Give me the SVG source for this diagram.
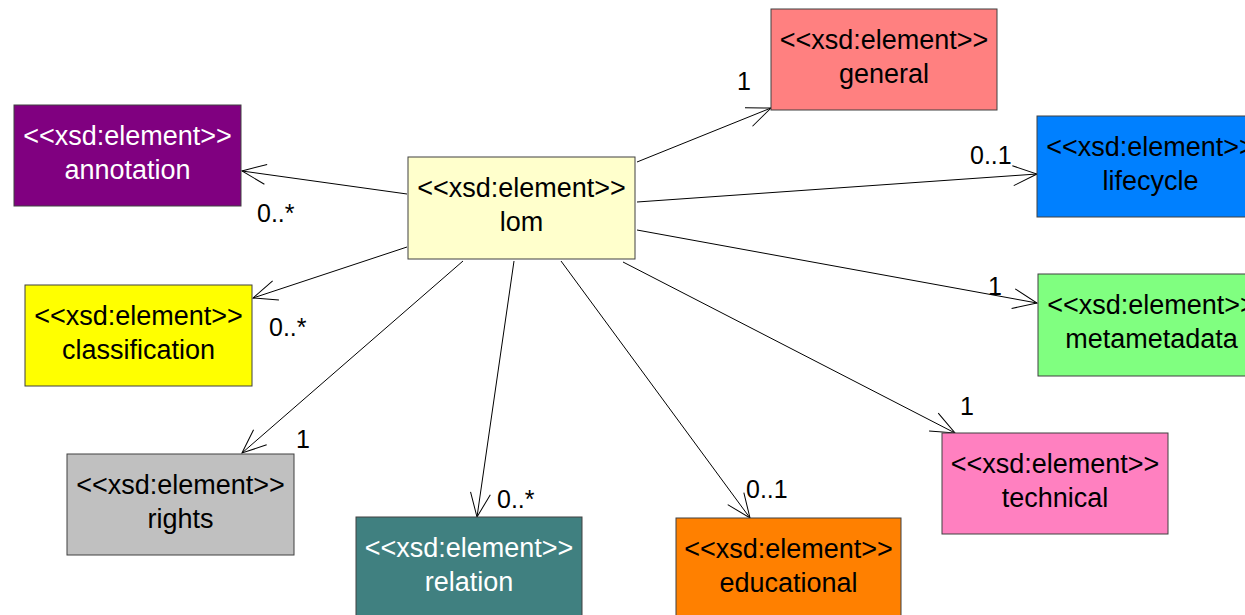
<svg xmlns="http://www.w3.org/2000/svg" width="1245" height="615" viewBox="0 0 1245 615">
  <defs>
    <marker id="open" viewBox="-26 -12 28 24" markerWidth="28" markerHeight="24" refX="0" refY="0" orient="auto" markerUnits="userSpaceOnUse" overflow="visible">
      <path d="M-24,-10 L0,0 L-24,10" fill="none" stroke="#000" stroke-width="1"/>
    </marker>
  </defs>
  <style>
    .box { stroke: #404040; stroke-width: 1; }
    .t { font-family: "Liberation Sans", Arial, sans-serif; font-size: 27px; text-anchor: middle; fill: #000; }
    .w { fill: #fff; }
    .conn line { stroke: #000; stroke-width: 1; fill: none; marker-end: url(#open); }
    .lbl { font-family: "Liberation Sans", Arial, sans-serif; font-size: 25px; fill: #000; }
  </style>
  <rect width="1245" height="615" fill="#fff"/>

  <g id="connectors" class="conn">
    <line x1="637" y1="162" x2="771" y2="108"/>
    <line x1="407" y1="194" x2="242" y2="171"/>
    <line x1="637" y1="202" x2="1037" y2="174"/>
    <line x1="637" y1="230" x2="1037" y2="303"/>
    <line x1="407" y1="247" x2="253" y2="298"/>
    <line x1="463" y1="261" x2="242" y2="453"/>
    <line x1="514" y1="261" x2="477" y2="517"/>
    <line x1="561" y1="261" x2="750" y2="518"/>
    <line x1="623" y1="262" x2="955" y2="433"/>
  </g>

  <g id="labels">
    <text class="lbl" x="737" y="90">1</text>
    <text class="lbl" x="257" y="222">0..*</text>
    <text class="lbl" x="970" y="164">0..1</text>
    <text class="lbl" x="988" y="295">1</text>
    <text class="lbl" x="269" y="336">0..*</text>
    <text class="lbl" x="296" y="448">1</text>
    <text class="lbl" x="497" y="508">0..*</text>
    <text class="lbl" x="746" y="498">0..1</text>
    <text class="lbl" x="960" y="415">1</text>
  </g>

  <g id="lom">
    <rect class="box" x="408" y="157" width="227" height="102" fill="#FFFFCC"/>
    <text class="t" x="521.5" y="197">&lt;&lt;xsd:element&gt;&gt;</text>
    <text class="t" x="521.5" y="231">lom</text>
  </g>
  <g id="general">
    <rect class="box" x="771" y="9" width="226" height="101" fill="#FF8080"/>
    <text class="t" x="884" y="49">&lt;&lt;xsd:element&gt;&gt;</text>
    <text class="t" x="884" y="83">general</text>
  </g>
  <g id="annotation">
    <rect class="box" x="14" y="105" width="227" height="101" fill="#800080"/>
    <text class="t w" x="127.5" y="145">&lt;&lt;xsd:element&gt;&gt;</text>
    <text class="t w" x="127.5" y="179">annotation</text>
  </g>
  <g id="lifecycle">
    <rect class="box" x="1037" y="116" width="227" height="101" fill="#0080FF"/>
    <text class="t" x="1150.5" y="156">&lt;&lt;xsd:element&gt;&gt;</text>
    <text class="t" x="1150.5" y="190">lifecycle</text>
  </g>
  <g id="metametadata">
    <rect class="box" x="1038" y="274" width="227" height="102" fill="#80FF80"/>
    <text class="t" x="1151.5" y="314">&lt;&lt;xsd:element&gt;&gt;</text>
    <text class="t" x="1151.5" y="348">metametadata</text>
  </g>
  <g id="classification">
    <rect class="box" x="25" y="285" width="227" height="101" fill="#FFFF00"/>
    <text class="t" x="138.5" y="325">&lt;&lt;xsd:element&gt;&gt;</text>
    <text class="t" x="138.5" y="359">classification</text>
  </g>
  <g id="rights">
    <rect class="box" x="67" y="454" width="227" height="101" fill="#C0C0C0"/>
    <text class="t" x="180.5" y="494">&lt;&lt;xsd:element&gt;&gt;</text>
    <text class="t" x="180.5" y="528">rights</text>
  </g>
  <g id="relation">
    <rect class="box" x="356" y="517" width="226" height="101" fill="#408080"/>
    <text class="t w" x="469" y="557">&lt;&lt;xsd:element&gt;&gt;</text>
    <text class="t w" x="469" y="591">relation</text>
  </g>
  <g id="educational">
    <rect class="box" x="676" y="518" width="225" height="101" fill="#FF8000"/>
    <text class="t" x="788.5" y="558">&lt;&lt;xsd:element&gt;&gt;</text>
    <text class="t" x="788.5" y="592">educational</text>
  </g>
  <g id="technical">
    <rect class="box" x="942" y="433" width="226" height="101" fill="#FF80C0"/>
    <text class="t" x="1055" y="473">&lt;&lt;xsd:element&gt;&gt;</text>
    <text class="t" x="1055" y="507">technical</text>
  </g>
</svg>
